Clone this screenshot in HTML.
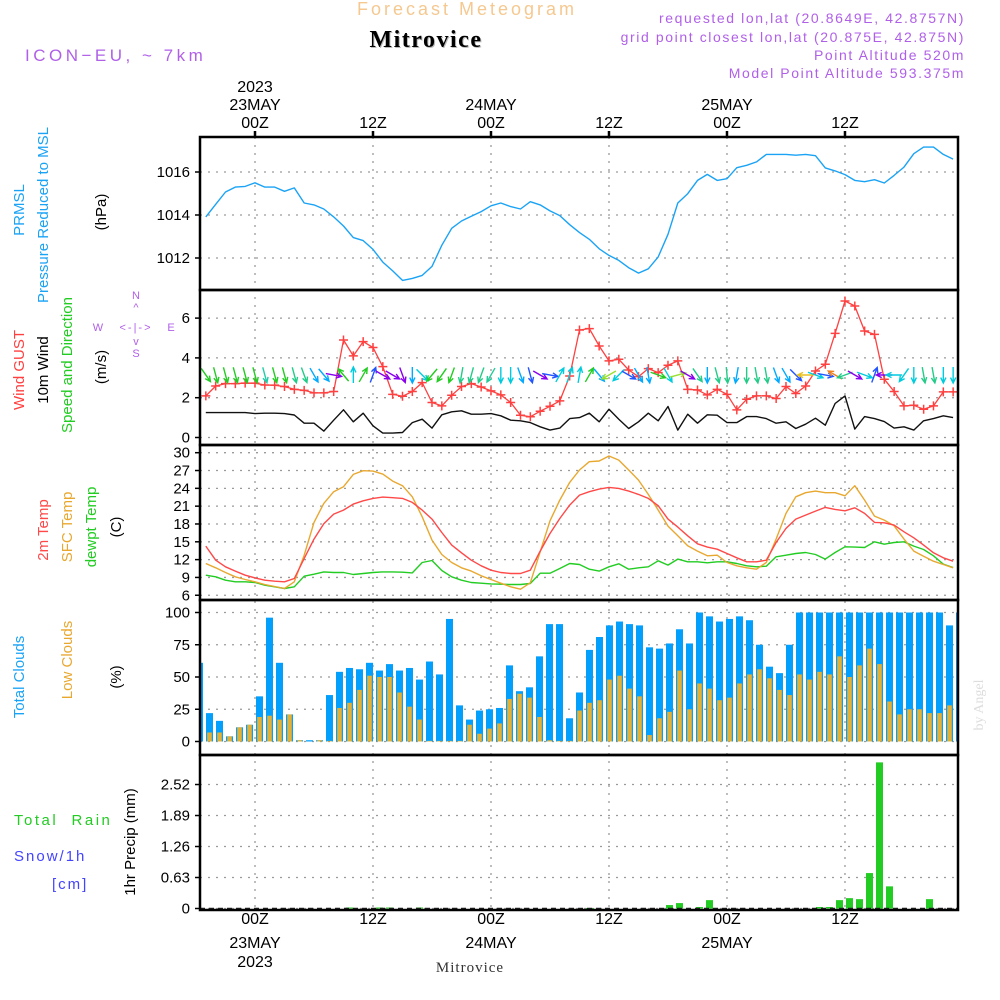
<!DOCTYPE html>
<html><head><meta charset="utf-8"><style>
body{margin:0;background:#fff;}
svg{display:block;font-family:"Liberation Sans",sans-serif;}
</style></head><body>
<svg id="chart" width="1000" height="1000" viewBox="0 0 1000 1000"></svg>
<script>
// ---------- data ----------
const hoursStart = -5; // first line point hour
const pressure = [1013.91,1014.5,1015.07,1015.3,1015.33,1015.5,1015.3,1015.3,1015.1,1015.26,1014.56,1014.47,1014.28,1013.91,1013.49,1012.95,1012.81,1012.4,1011.81,1011.4,1010.96,1011.05,1011.19,1011.61,1012.59,1013.38,1013.72,1013.94,1014.16,1014.43,1014.56,1014.39,1014.28,1014.62,1014.47,1014.19,1013.97,1013.55,1013.18,1012.87,1012.43,1012.12,1011.89,1011.55,1011.3,1011.5,1012.05,1013.1,1014.56,1014.99,1015.61,1015.89,1015.61,1015.69,1016.2,1016.31,1016.47,1016.82,1016.82,1016.82,1016.78,1016.82,1016.76,1016.19,1016.05,1015.88,1015.61,1015.55,1015.64,1015.49,1015.84,1016.23,1016.85,1017.16,1017.16,1016.82,1016.6];
const gust = [2.09,2.59,2.71,2.71,2.73,2.73,2.64,2.63,2.56,2.42,2.37,2.24,2.24,2.31,4.9,4.1,4.82,4.52,3.56,2.17,2.07,2.31,2.76,1.76,1.59,2.12,2.56,2.71,2.54,2.34,2.14,1.76,1.12,1.04,1.32,1.57,1.84,3.09,5.4,5.47,4.6,3.85,3.93,3.39,3.06,3.46,3.26,3.63,3.85,2.42,2.39,2.14,2.42,2.17,1.39,1.92,2.09,2.09,1.96,2.56,2.21,2.59,3.34,3.68,5.23,6.86,6.61,5.35,5.18,2.93,2.31,1.59,1.62,1.42,1.59,2.29,2.29];
const wind10 = [1.25,1.25,1.25,1.25,1.25,1.2,1.22,1.22,1.2,1.13,0.72,0.72,0.32,0.87,1.39,0.79,1.22,0.59,0.22,0.22,0.25,0.75,0.92,0.47,1.14,1.29,1.34,1.17,1.17,1.2,1.09,0.87,0.84,0.75,0.54,0.37,0.47,0.95,1.0,1.22,0.79,1.42,0.92,0.45,0.79,1.22,0.84,1.56,0.37,1.17,0.72,1.14,1.12,0.75,0.75,1.05,1.05,0.95,0.72,0.79,0.45,0.67,0.97,0.62,1.71,2.09,0.42,1.05,0.95,0.8,0.47,0.54,0.37,0.84,0.95,1.09,1.0];
const windDir = [145,165,165,165,165,165,165,165,165,165,160,150,140,100,320,0,30,20,120,120,160,180,135,220,215,200,190,195,200,210,180,180,160,165,120,100,30,20,10,30,140,240,225,120,150,170,110,150,75,120,145,180,165,175,190,180,170,170,160,150,135,270,110,100,300,250,120,110,20,270,270,215,180,170,170,180,180];
const windCol = ["#22cc22","#22cc22","#22cc22","#22cc22","#22cc22","#22cc22","#22ccaa","#22cc22","#22cc22","#22cc88","#22cc88","#00aaff","#00aaff","#8800ee","#22cc22","#00ccdd","#22cc22","#2255ff","#8800ee","#8800ee","#8800ee","#00aaff","#00ccdd","#22cc22","#22cc22","#22cc22","#22cc88","#22cc88","#22cc88","#22cc99","#00ccdd","#00ccdd","#00aaff","#2255ff","#8800ee","#2255ff","#00ccdd","#00ccdd","#00ccdd","#22cc22","#00aaff","#99e033","#00ccdd","#2255ff","#00aaff","#00aaff","#22cc22","#00ccdd","#99e033","#8800ee","#22cc88","#00aaff","#22cc88","#22cc88","#00aaff","#22cc88","#22cc88","#22cc88","#00aaff","#00aaff","#2255ff","#e8c020","#00ccdd","#2255ff","#f08020","#22cc88","#8800ee","#00ccdd","#2255ff","#8800ee","#00ccdd","#00ccdd","#00ccdd","#22cc88","#22cc88","#00ccdd","#00ccdd"];
const temp2m = [14.27,11.91,10.79,10.06,9.38,8.93,8.54,8.37,8.26,8.82,12.19,15.45,18.03,19.66,20.34,21.35,21.91,22.3,22.53,22.42,22.3,21.63,20.34,18.82,16.57,14.44,13.15,11.91,10.96,10.22,9.83,9.66,9.66,10.22,13.43,16.4,18.93,21.18,22.87,23.43,23.88,24.16,23.99,23.54,22.98,22.3,21.07,18.82,17.47,16.01,14.66,14.1,13.76,13.03,12.3,11.63,11.63,11.91,14.89,17.25,18.82,19.49,20.17,20.79,20.45,20.22,20.73,19.78,18.26,18.2,17.81,16.69,15.67,14.44,13.15,12.3,11.74];
const tempSfc = [11.35,10.62,9.83,9.1,8.65,8.26,7.81,7.47,7.13,8.26,12.75,18.26,21.46,23.43,24.27,26.35,26.97,26.91,26.4,25.22,24.44,22.58,19.21,15.28,12.87,11.52,10.62,10.06,9.27,8.65,8.03,7.42,7.02,8.09,13.31,18.54,22.02,25.0,27.08,28.48,28.6,29.44,28.76,27.08,25.39,22.98,20.34,17.64,16.01,14.33,13.43,12.64,12.75,11.52,10.96,10.62,10.39,11.52,15.45,19.78,22.58,23.26,23.54,23.26,23.26,22.75,24.44,22.02,19.33,18.65,17.7,15.45,13.43,12.58,11.74,11.18,10.62];
const dewpt = [9.38,9.1,8.54,8.26,8.26,8.15,7.7,7.42,7.13,7.42,9.21,9.55,9.94,9.83,9.83,9.49,9.66,9.83,9.94,9.94,9.89,9.77,11.52,11.85,10.17,9.1,8.54,8.15,8.03,7.92,7.87,7.81,7.81,7.98,9.72,9.72,10.51,11.35,11.18,10.39,10.06,10.79,11.29,10.39,10.62,10.79,11.8,11.07,12.08,11.63,11.63,11.46,11.63,11.63,11.35,10.96,10.79,10.9,12.47,12.75,13.03,13.2,12.87,12.08,13.2,14.16,14.1,14.04,15.0,14.6,14.88,15.0,14.27,13.71,12.64,11.24,10.68];
const totalClouds = [61,22,16,4,11,13,35,96,61,21,1,1,1,36,54,57,56,61,55,60,55,57,48,62,52,95,28,17,24,25,26,59,39,42,66,91,91,18,38,71,81,90,93,91,90,73,72,76,87,76,100,97,93,95,97,94,75,58,53,75,100,100,100,100,100,100,100,100,100,100,100,100,100,100,100,90,100];
const lowClouds = [0,7,7,4,11,13,19,20,17,21,1,0,1,0.5,26,30,40,51,50,50,38,27,17,0.5,0.5,0.5,0.5,13,6,10,14,33,37,34,19,1,0.5,0.5,24,30,32,48,51,41,35,5,18,23,55,25,45,41,32,34,45,52,56,49,40,36,52,48,54,52,66,50,59,72,60,31,21,25,25,22,22,28,40];
const precip = [0,0,0,0,0,0,0,0,0,0,0,0,0,0,0,0.02,0,0,0.02,0.02,0,0,0.02,0,0,0,0,0,0,0,0,0,0,0,0,0,0,0,0,0.01,0,0,0,0,0,0,0,0.07,0.11,0,0.03,0.17,0,0,0,0,0,0,0,0,0,0,0.03,0.03,0.17,0.21,0.19,0.72,2.97,0.45,0,0,0,0.19,0,0,0];
const pTicks = [1012,1014,1016];
const wTicks = [0,2,4,6];
const tTicks = [6,9,12,15,18,21,24,27,30];
const cTicks = [0,25,50,75,100];
const rTicks = [0,0.63,1.26,1.89,2.52];
const timeTickHours = [0,12,24,36,48,60];
const topDate = ["23MAY","","24MAY","","25MAY",""];
const tickZ = ["00Z","12Z","00Z","12Z","00Z","12Z"];

// ---------- scales ----------
const X0=200, X1=958;
const xh = h => 255 + h*9.833;
const xk = k => xh(hoursStart + k);
const xb = i => 199.5 + i*10;
const yP = p => 172 + (1016-p)*21.5;
const yW = v => 437.5 - v*19.9;
const yT = t => 452.7 + (30-t)*5.94;
const yC = c => 741.5 - c*1.29;
const yR = r => 908.5 - r*49.2;
const panels = [[137,290],[290,445],[445,600],[600,755],[755,910]];

const svg = document.getElementById('chart');
const NS='http://www.w3.org/2000/svg';
function mk(tag, attrs, parent){const e=document.createElementNS(NS,tag);for(const a in attrs)e.setAttribute(a,attrs[a]);(parent||svg).appendChild(e);return e;}
function txt(s,x,y,opt){const e=mk('text',Object.assign({x:x,y:y,'font-size':15,fill:'#000'},opt||{}));e.textContent=s;return e;}

// ---------- grid ----------
const grid = mk('g',{stroke:'#9a9a9a','stroke-width':1.3,'stroke-dasharray':'2,6',fill:'none'});


timeTickHours.forEach(h=>{ mk('line',{x1:xh(h),x2:xh(h),y1:137,y2:910},grid); });
function hgrid(ticks, ys){ ticks.forEach(t=>mk('line',{x1:X0,x2:X1,y1:ys(t),y2:ys(t)},grid)); }
hgrid(pTicks,yP); hgrid(wTicks,yW); hgrid(tTicks,yT); hgrid(cTicks,yC); hgrid(rTicks,yR);

// ---------- y tick labels ----------
function yLabels(ticks, ys, name, fmt){
  const g=mk('g',{'font-size':15,'text-anchor':'end'});
  
  
  ticks.forEach(t=>{ const e=txt(fmt?fmt(t):String(t),190,ys(t)+5,{'text-anchor':'end'}); g.appendChild(e);
    mk('line',{x1:195,x2:200,y1:ys(t),y2:ys(t),stroke:'#000','stroke-width':1.5}); });
}
yLabels(pTicks,yP,'pressure-y-ticks');
yLabels(wTicks,yW,'wind-y-ticks');
yLabels(tTicks,yT,'temp-y-ticks');
yLabels(cTicks,yC,'cloud-y-ticks');
yLabels(rTicks,yR,'precip-y-ticks',t=>t===0?'0':t.toFixed(2));

// ---------- pressure ----------
function line(arr, ys, color, name, w){
  const pts = arr.map((v,k)=>xk(k).toFixed(1)+','+ys(v).toFixed(1)).join(' ');
  const e=mk('polyline',{points:pts,fill:'none',stroke:color,'stroke-width':w||1.4,'stroke-linejoin':'round'});
  
  
  return e;
}
line(pressure,yP,'#1aa3f5','pressure-line');

// ---------- wind ----------
line(wind10,yW,'#111','wind10m-line',1.4);
line(gust,yW,'#ff4040','wind-gust-line',1.3);
const gm = mk('g',{stroke:'#ff4040','stroke-width':1.5});


gust.forEach((v,k)=>{const x=xk(k),y=yW(v);mk('path',{d:`M${x-4.5},${y}H${x+4.5}M${x},${y-4.5}V${y+4.5}`},gm);});
const wa = mk('g',{'stroke-width':1.4,fill:'none'});


windDir.forEach((d,k)=>{
  const x=xk(k), yc=375, L=8, r=d*Math.PI/180;
  const dx=Math.sin(r)*L, dy=-Math.cos(r)*L;
  const x2=x+dx,y2=yc+dy,x1=x-dx,y1=yc-dy;
  const a1=r+Math.PI-0.45,a2=r+Math.PI+0.45;
  const c=windCol[k];
  mk('path',{d:`M${x1},${y1}L${x2},${y2}M${x2+Math.sin(a1)*6},${y2-Math.cos(a1)*6}L${x2},${y2}L${x2+Math.sin(a2)*6},${y2-Math.cos(a2)*6}`,stroke:c},wa);
});

// ---------- temperature ----------
line(dewpt,yT,'#22cc22','dewpoint-line');
line(tempSfc,yT,'#e8a830','sfc-temp-line');
line(temp2m,yT,'#ff4848','temp-2m-line');

// ---------- clouds ----------
const cg = mk('g',{});


totalClouds.forEach((v,i)=>{
  const x=xb(i); const b=mk('rect',{x:Math.max(X0,x-3.5),y:yC(v),width:Math.min(x+3.5,X1)-Math.max(X0,x-3.5),height:yC(0)-yC(v),fill:'#02a0fc'},cg);
  
  
});
lowClouds.forEach((v,i)=>{
  const x=xb(i); if(x-2.3<X0||x+2.3>X1+2) return;
  const b=mk('rect',{x:x-2.3,y:yC(v),width:4.6,height:yC(0)-yC(v),fill:'#e8b030'},cg);
  
  
});

// ---------- precip ----------
const pg = mk('g',{});


precip.forEach((v,i)=>{
  if(v<=0) return;
  const x=xb(i); const b=mk('rect',{x:x-3.5,y:yR(v),width:7,height:Math.max(1,yR(0)-yR(v)),fill:'#22cc22'},pg);
  
  
});
mk('line',{x1:X0,x2:X1,y1:908.5,y2:908.5,stroke:'#222','stroke-width':1.5,'stroke-dasharray':'5,4'});

// ---------- frames ----------
const fr = mk('g',{stroke:'#000','stroke-width':2.5,fill:'none'});


panels.forEach(p=>mk('rect',{x:X0,y:p[0],width:X1-X0,height:p[1]-p[0]},fr));
timeTickHours.forEach(h=>{ mk('line',{x1:xh(h),x2:xh(h),y1:131,y2:137},fr); });

// ---------- time labels ----------
const tl = mk('g',{'font-size':16,'text-anchor':'middle'});


timeTickHours.forEach((h,i)=>{
  const x=xh(h);
  tl.appendChild(txt(tickZ[i],x,128,{'text-anchor':'middle','font-size':16}));
  tl.appendChild(txt(tickZ[i],x,924,{'text-anchor':'middle','font-size':16}));
  if(topDate[i]){ tl.appendChild(txt(topDate[i],x,110,{'text-anchor':'middle','font-size':16}));
                  tl.appendChild(txt(topDate[i],x,948,{'text-anchor':'middle','font-size':16})); }
});
tl.appendChild(txt('2023',xh(0),92,{'text-anchor':'middle','font-size':16}));
tl.appendChild(txt('2023',xh(0),967,{'text-anchor':'middle','font-size':16}));
</script>

<svg width="1000" height="1000" style="position:absolute;left:0;top:0" font-family="Liberation Sans, sans-serif">
  <text x="467" y="15" font-size="18" fill="#f5c890" text-anchor="middle" letter-spacing="3">Forecast Meteogram</text>
  <text x="427" y="48" font-size="24" font-weight="bold" fill="#bbb" text-anchor="middle" letter-spacing="1.5" font-family="Liberation Serif, serif">Mitrovice</text>
  <text x="426" y="47" font-size="24" font-weight="bold" fill="#000" text-anchor="middle" letter-spacing="1.5" font-family="Liberation Serif, serif">Mitrovice</text>
  <text x="25" y="61" font-size="17" fill="#b060e8" letter-spacing="3.5">ICON−EU, ~ 7km</text>
  <g font-size="14" fill="#b060e8" text-anchor="end" letter-spacing="1.6">
    <text x="965" y="23">requested lon,lat (20.8649E, 42.8757N)</text>
    <text x="965" y="42">grid point closest lon,lat (20.875E, 42.875N)</text>
    <text x="965" y="60">Point Altitude 520m</text>
    <text x="965" y="78">Model Point Altitude 593.375m</text>
  </g>
  <g font-size="15">
    <text transform="translate(24,210) rotate(-90)" text-anchor="middle" fill="#1aa3f5">PRMSL</text>
    <text transform="translate(48,215) rotate(-90)" text-anchor="middle" fill="#1aa3f5">Pressure Reduced to MSL</text>
    <text transform="translate(106,212) rotate(-90)" text-anchor="middle">(hPa)</text>
  </g>
  <g font-size="15">
    <text transform="translate(24,370) rotate(-90)" text-anchor="middle" fill="#ff4040">Wind GUST</text>
    <text transform="translate(48,370) rotate(-90)" text-anchor="middle">10m Wind</text>
    <text transform="translate(72,365) rotate(-90)" text-anchor="middle" fill="#22cc22">Speed and Direction</text>
    <text transform="translate(106,367) rotate(-90)" text-anchor="middle">(m/s)</text>
  </g>
  <g font-size="11" fill="#b060e8" text-anchor="middle">
    <text x="136" y="299">N</text>
    <text x="136" y="311">^</text>
    <text x="98" y="331">W</text>
    <text x="136" y="331" letter-spacing="2">&lt;-|-&gt;</text>
    <text x="171" y="331">E</text>
    <text x="136" y="345">v</text>
    <text x="136" y="357">S</text>
  </g>
  <g font-size="15">
    <text transform="translate(48,530) rotate(-90)" text-anchor="middle" fill="#ff4848">2m Temp</text>
    <text transform="translate(72,527) rotate(-90)" text-anchor="middle" fill="#e8a830">SFC Temp</text>
    <text transform="translate(96,527) rotate(-90)" text-anchor="middle" fill="#22cc22">dewpt Temp</text>
    <text transform="translate(121,527) rotate(-90)" text-anchor="middle">(C)</text>
  </g>
  <g font-size="15">
    <text transform="translate(24,677) rotate(-90)" text-anchor="middle" fill="#1aa3f5">Total Clouds</text>
    <text transform="translate(72,660) rotate(-90)" text-anchor="middle" fill="#e8a830">Low Clouds</text>
    <text transform="translate(121,677) rotate(-90)" text-anchor="middle">(%)</text>
  </g>
  <g font-size="15">
    <text x="14" y="825" fill="#22cc22" xml:space="preserve" letter-spacing="2.5">Total  Rain</text>
    <text x="14" y="861" fill="#4444ff" letter-spacing="2">Snow/1h</text>
    <text x="52" y="889" fill="#4444ff" letter-spacing="2">[cm]</text>
    <text transform="translate(135,842) rotate(-90)" text-anchor="middle">1hr Precip (mm)</text>
  </g>
  <text x="470" y="972" font-size="15" text-anchor="middle" fill="#333" font-family="Liberation Serif, serif" letter-spacing="1">Mitrovice</text>
  <text transform="translate(983,705) rotate(-90)" font-size="14" fill="#ddd" text-anchor="middle" font-family="Liberation Serif, serif">by Angel</text>
</svg>
</body></html>
